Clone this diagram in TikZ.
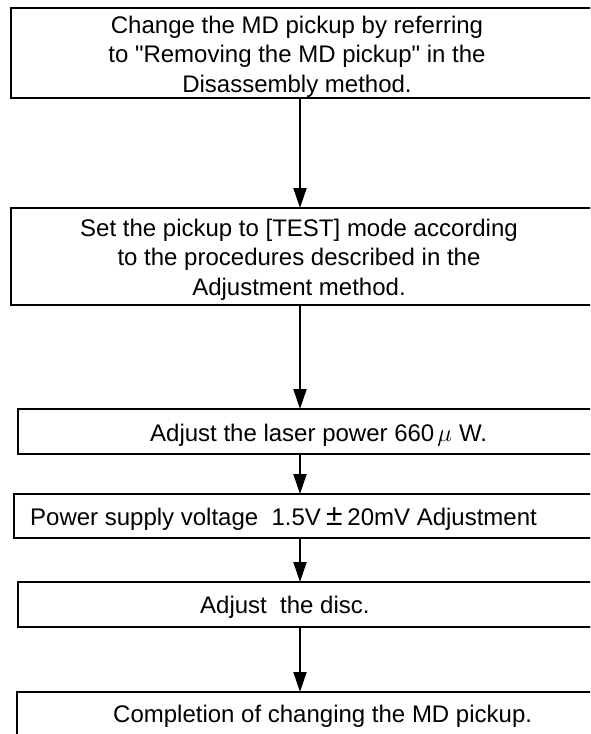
\documentclass[tikz,border=0pt]{standalone}
\usepackage{fontspec}
\setmainfont{Liberation Sans}
\usetikzlibrary{arrows.meta}
\tikzset{
  stepbox/.style={draw, line width=2pt, rectangle, inner sep=0pt, outer sep=0pt,
    anchor=north west, minimum width=620pt},
  steptext/.style={font=\fontsize{24}{29.5}\selectfont, inner sep=0pt, align=center},
  flowarrow/.style={line width=2pt, -{Triangle[length=20pt,width=13pt]}}
}
\begin{document}
\begin{tikzpicture}[x=1pt,y=-1pt]
\useasboundingbox (0,0) rectangle (590,734);
\clip (0,0) rectangle (590,734);
\coordinate (spine) at (300,0);
% boxes, open to the right
\node[stepbox, minimum height=90pt] (change) at (10.5,8) {};
\node[stepbox, minimum height=97pt] (testmode) at (10.5,208) {};
\node[stepbox, minimum height=45pt] (laser) at (18,409) {};
\node[stepbox, minimum height=44pt] (supply) at (14,494) {};
\node[stepbox, minimum height=45pt] (disc) at (18,582) {};
\node[stepbox, minimum height=80pt] (done) at (17,692) {};
% texts (base = last line)
\node[steptext, anchor=base] (changetxt) at (297,92) {Change the MD pickup by referring\\to \textquotedbl Removing the MD pickup\textquotedbl\ in the\\Disassembly method.};
\node[steptext, anchor=base] (testmodetxt) at (299,295) {Set the pickup to [TEST] mode according\\to the procedures described in the\\Adjustment method.};
\node[steptext, anchor=base west] (lasertxt) at (150,441) {Adjust the laser power 660\kern3pt$\mu$\kern7pt W.};
\node[steptext, anchor=base west] (supplytxt) at (30,525) {Power supply voltage\ \ 1.5V\makebox[1.1em]{\scalebox{1.25}{±}}20mV Adjustment};
\node[steptext, anchor=base west] (disctxt) at (200,613) {Adjust\ \ the disc.};
\node[steptext, anchor=base west] (donetxt) at (113,722) {Completion of changing the MD pickup.};
% arrows
\draw[flowarrow] (change.south -| spine) -- (testmode.north -| spine);
\draw[flowarrow] (testmode.south -| spine) -- (laser.north -| spine);
\draw[flowarrow] (laser.south -| spine) -- (supply.north -| spine);
\draw[flowarrow] (supply.south -| spine) -- (disc.north -| spine);
\draw[flowarrow] (disc.south -| spine) -- (done.north -| spine);
\end{tikzpicture}
\end{document}
